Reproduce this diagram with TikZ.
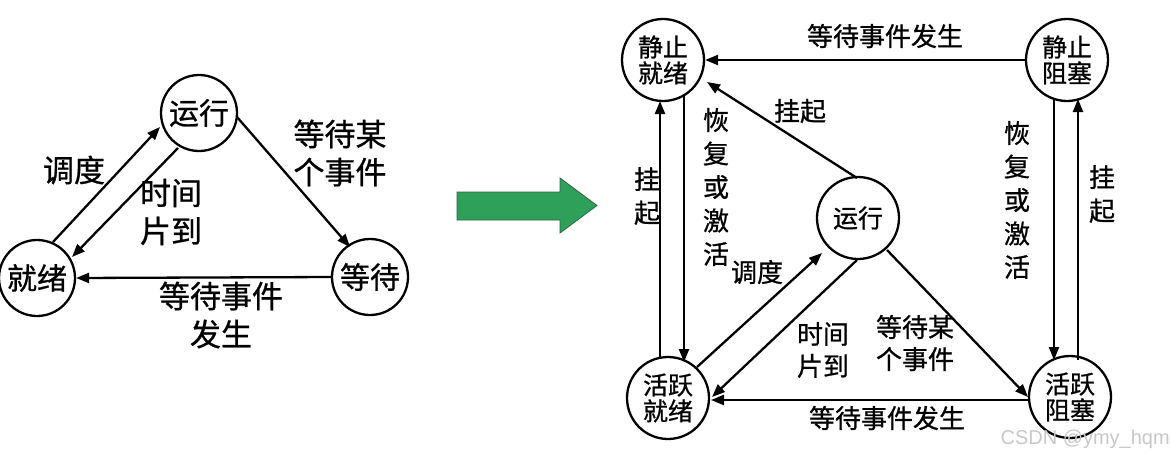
\documentclass[tikz,border=0pt]{standalone}
\usepackage{fontspec}
\setmainfont{Noto Sans CJK SC}[FakeBold=0.8]
\newfontfamily\wmfont{Liberation Sans}
\usetikzlibrary{arrows.meta}
\tikzset{
  st/.style={draw,circle,line width=2.3pt,inner sep=0pt},
  bigst/.style={st,minimum size=76pt,font=\fontsize{30}{30}\selectfont},
  smst/.style={st,minimum size=82pt,font=\fontsize{25}{26}\selectfont,align=center},
  tr/.style={line width=2.3pt,-{Triangle[length=13pt,width=10pt]}},
  biglab/.style={font=\fontsize{31}{38}\selectfont,align=center,inner sep=0pt},
  smlab/.style={font=\fontsize{26}{32}\selectfont,align=center,inner sep=0pt},
  vlab/.style={font=\fontsize{26}{33.5}\selectfont,align=center,inner sep=0pt},
}
\begin{document}
\begin{tikzpicture}[x=1pt,y=-1pt]
\useasboundingbox (0,0) rectangle (1171,456);
% left diagram
\node[bigst] (run) at (199,113) {运行};
\node[bigst] (ready) at (37,278) {就绪};
\node[bigst] (wait) at (370,277) {等待};
\coordinate (a1) at (53,242); \coordinate (a2) at (160,127);
\draw[tr] (a1) -- (a2);
\coordinate (b1) at (178,148); \coordinate (b2) at (72,257);
\draw[tr] (b1) -- (b2);
\coordinate (c1) at (237,117); \coordinate (c2) at (350,247);
\draw[tr] (c1) -- (c2);
\draw[tr] (wait.west) -- (ready.east);
\node[biglab] (l1) at (74,170) {调度};
\node[biglab] (l2) at (171,212) {时间\\片到};
\node[biglab] (l3) at (340,153) {等待某\\个事件};
\node[biglab] (l4) at (221,315) {等待事件\\发生};
% green arrow
\fill[fill={rgb,255:red,46;green,160;blue,90},draw={rgb,255:red,50;green,100;blue,70},line width=0.8pt]
  (457,192) -- (560,192) -- (560,178) -- (597,205.5) -- (560,233) -- (560,220) -- (457,220) -- cycle;
% right diagram
\node[smst] (sr) at (663,60) {静止\\就绪};
\node[smst] (sb) at (1067,60) {静止\\阻塞};
\node[smst] (rr) at (858,218) {运行};
\node[smst] (ar) at (668,398) {活跃\\就绪};
\node[smst] (ab) at (1070,397) {活跃\\阻塞};
\draw[tr] (sb.west) -- (sr.east);
\coordinate (d1) at (857,178); \coordinate (d2) at (707,82);
\draw[tr] (d1) -- (d2);
\coordinate (e1) at (660,358); \coordinate (e2) at (660,101);
\draw[tr] (e1) -- (e2);
\coordinate (f1) at (684,96); \coordinate (f2) at (684,362);
\draw[tr] (f1) -- (f2);
\coordinate (g1) at (1054,98); \coordinate (g2) at (1054,360);
\draw[tr] (g1) -- (g2);
\coordinate (h1) at (1078,360); \coordinate (h2) at (1078,99);
\draw[tr] (h1) -- (h2);
\coordinate (i1) at (697,367); \coordinate (i2) at (822,253);
\draw[tr] (i1) -- (i2);
\coordinate (j1) at (857,260); \coordinate (j2) at (712,397);
\draw[tr] (j1) -- (j2);
\coordinate (k1) at (887,250); \coordinate (k2) at (1028,397);
\draw[tr] (k1) -- (k2);
\coordinate (m1) at (1028,400); \coordinate (m2) at (711,400);
\draw[tr] (m1) -- (m2);
\node[smlab] (n1) at (885,36) {等待事件发生};
\node[smlab] (n2) at (800,111) {挂起};
\node[vlab] (n3) at (647,196) {挂\\起};
\node[vlab] (n4) at (716,187) {恢\\复\\或\\激\\活};
\node[vlab] (n5) at (1017,200) {恢\\复\\或\\激\\活};
\node[vlab] (n6) at (1102,194) {挂\\起};
\node[smlab] (n7) at (757,272) {调度};
\node[smlab] (n8) at (823,350) {时间\\片到};
\node[smlab] (n9) at (915,343) {等待某\\个事件};
\node[smlab] (n10) at (887,418) {等待事件发生};
\node[font=\wmfont\fontsize{20}{22}\selectfont,text=black!22,inner sep=0pt,anchor=base east] (wm) at (1170,444) {CSDN @ymy\_hqm};
\end{tikzpicture}
\end{document}
